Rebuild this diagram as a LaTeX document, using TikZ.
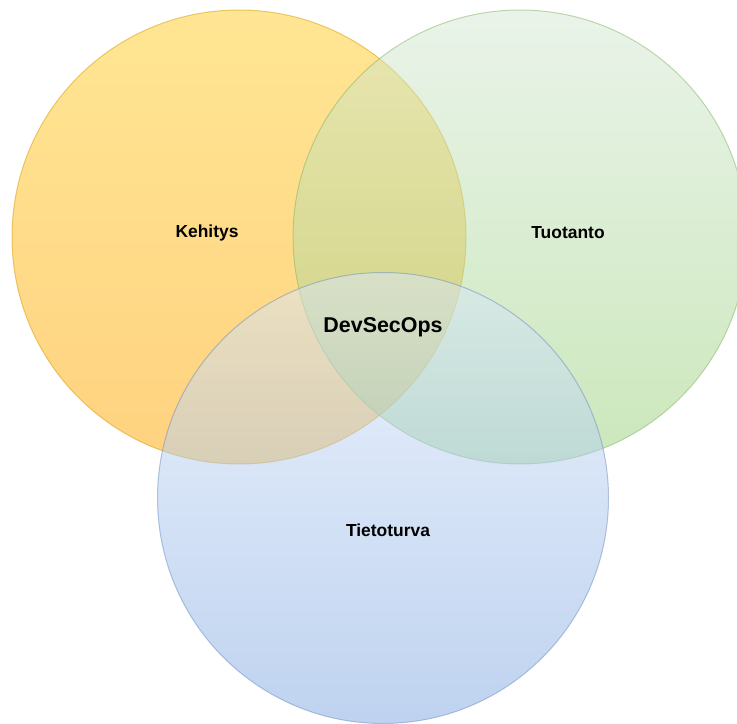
\documentclass[tikz,border=0pt]{standalone}
\usepackage{fontspec}
\setmainfont{Liberation Sans}
\begin{document}
\begin{tikzpicture}[x=1bp,y=-1bp,
  setcircle/.style={circle, inner sep=0pt, minimum size=454bp, line width=1bp, opacity=0.5},
  lbl/.style={font=\bfseries\fontsize{17.5}{20}\selectfont, text=black},
  biglbl/.style={font=\bfseries\fontsize{21.5}{24}\selectfont, text=black}]
\definecolor{devtop}{HTML}{FFCD28}
\definecolor{devbot}{HTML}{FFA500}
\definecolor{devline}{HTML}{D79B00}
\definecolor{opstop}{HTML}{D5E8D4}
\definecolor{opsbot}{HTML}{97D077}
\definecolor{opsline}{HTML}{82B366}
\definecolor{sectop}{HTML}{DAE8FC}
\definecolor{secbot}{HTML}{7EA6E0}
\definecolor{secline}{HTML}{6C8EBF}
\useasboundingbox (0,0) rectangle (737,724);
\begin{scope}
\clip (0,0) rectangle (737,724);
% the three overlapping sets
\node[setcircle, draw=devline, top color=devtop, bottom color=devbot] (dev) at (239,237) {};
\node[setcircle, draw=opsline, top color=opstop, bottom color=opsbot] (ops) at (520,237) {};
\node[setcircle, minimum size=451bp, draw=secline, top color=sectop, bottom color=secbot] (sec) at (383,498) {};
\end{scope}
% set labels
\node[lbl] (devlabel) at (207,233) {Kehitys};
\node[lbl] (opslabel) at (568,233) {Tuotanto};
\node[lbl] (seclabel) at (388,530) {Tietoturva};
\node[biglbl] (core) at (383,327) {DevSecOps};
\end{tikzpicture}
\end{document}
